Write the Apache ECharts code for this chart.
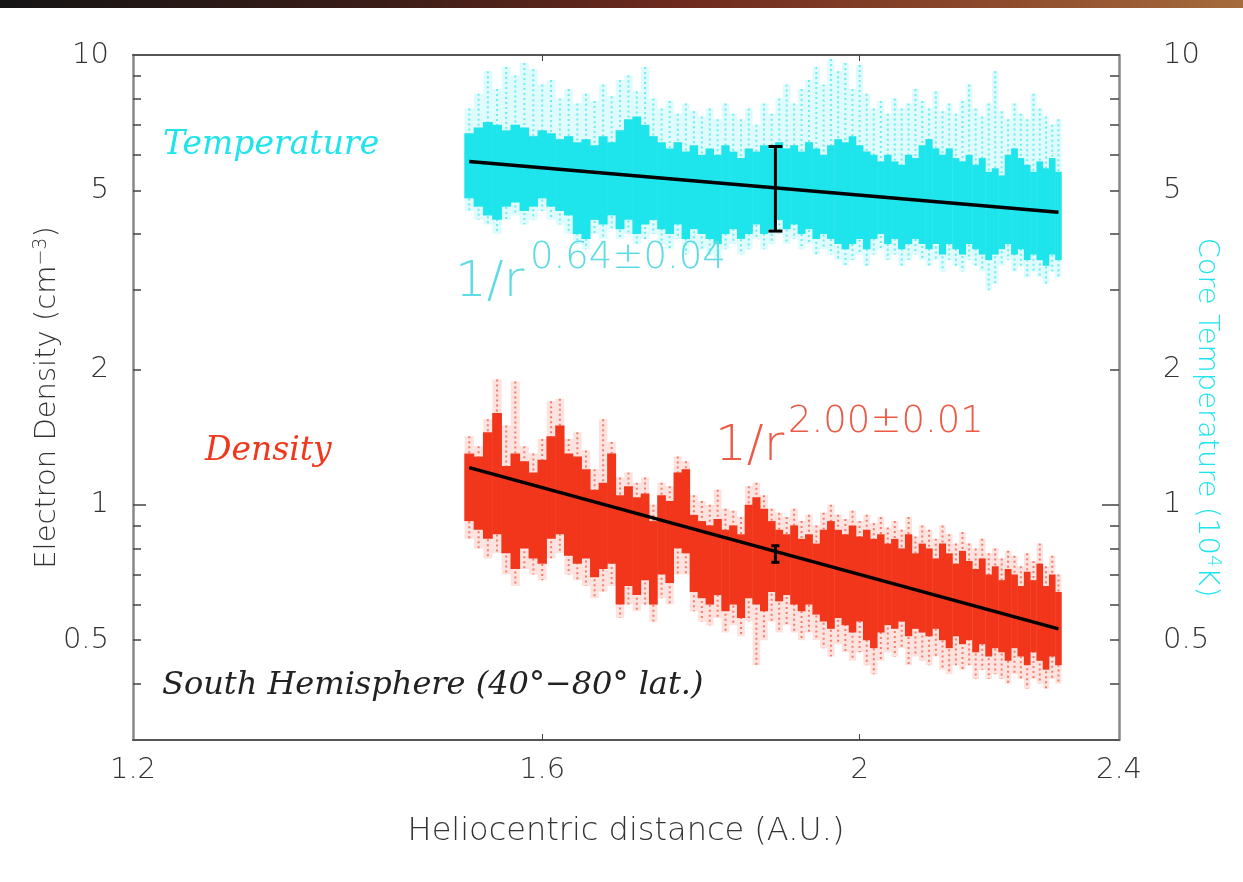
<!DOCTYPE html>
<html>
<head>
<meta charset="utf-8">
<script src="https://cdn.jsdelivr.net/npm/echarts@6/dist/echarts.min.js"></script>
<style>
html, body { margin: 0; padding: 0; background: #fff; }
#main { width: 1243px; height: 882px; }
</style>
</head>
<body>
<div id="main"></div>
<script>
// heliocentric distance bins (A.U.)
var binX = [1.52, 1.53, 1.54, 1.55, 1.56, 1.57, 1.58, 1.59, 1.60, 1.61,
    1.62, 1.63, 1.64, 1.65, 1.66, 1.67, 1.68, 1.69, 1.70, 1.71,
    1.72, 1.73, 1.74, 1.75, 1.76, 1.77, 1.78, 1.79, 1.80, 1.81,
    1.82, 1.83, 1.84, 1.85, 1.86, 1.87, 1.88, 1.89, 1.90, 1.91,
    1.92, 1.93, 1.94, 1.95, 1.96, 1.97, 1.98, 1.99, 2.00, 2.01,
    2.02, 2.03, 2.04, 2.05, 2.06, 2.07, 2.08, 2.09, 2.10, 2.11,
    2.12, 2.13, 2.14, 2.15, 2.16, 2.17, 2.18, 2.19, 2.20, 2.21,
    2.22, 2.23, 2.24, 2.25, 2.26, 2.27, 2.28, 2.29, 2.30];

// core temperature (10^4 K): dense band and sparse outliers
var tempHi = [6.7, 6.9, 7.1, 7.0, 6.8, 7.0, 6.9, 6.6, 6.8, 6.7,
    6.5, 6.6, 6.4, 6.5, 6.3, 6.6, 6.4, 6.8, 7.2, 7.3,
    7.0, 6.6, 6.4, 6.2, 6.4, 6.1, 6.3, 6.0, 6.2, 6.0,
    6.3, 6.1, 5.9, 6.2, 6.1, 6.3, 6.2, 6.4, 6.2, 6.3,
    6.1, 6.4, 6.2, 6.0, 6.3, 6.5, 6.4, 6.6, 6.3, 6.1,
    6.0, 5.8, 6.0, 5.8, 5.7, 6.0, 5.9, 6.3, 6.5, 6.2,
    6.0, 6.2, 5.9, 5.8, 6.0, 5.7, 5.9, 5.5, 5.6, 5.4,
    6.0, 6.2, 5.9, 5.7, 5.5, 5.8, 5.6, 5.9, 5.5];
var tempLo = [4.8, 4.6, 4.4, 4.3, 4.6, 4.7, 4.5, 4.6, 4.8, 4.6,
    4.5, 4.4, 4.0, 3.9, 4.3, 4.2, 4.4, 4.1, 4.3, 4.0,
    4.2, 4.3, 4.1, 4.0, 4.2, 3.9, 4.1, 4.0, 3.9, 3.8,
    4.0, 4.1, 3.9, 4.0, 4.2, 4.0, 4.1, 4.3, 4.1, 4.2,
    4.0, 4.1, 3.9, 4.0, 3.9, 3.8, 3.7, 3.8, 3.9, 3.7,
    3.9, 4.0, 3.8, 3.9, 3.7, 3.8, 3.9, 3.8, 3.7, 3.8,
    3.6, 3.8, 3.7, 3.6, 3.8, 3.7, 3.6, 3.5, 3.6, 3.7,
    3.8, 3.6, 3.7, 3.5, 3.6, 3.5, 3.4, 3.6, 3.5];
var tempMax = [7.6, 8.2, 9.2, 8.4, 9.4, 9.0, 9.6, 9.3, 8.6, 8.8,
    8.0, 8.4, 7.8, 8.2, 7.9, 8.6, 8.1, 8.8, 9.0, 8.3,
    9.4, 8.0, 7.6, 7.9, 7.4, 7.8, 7.5, 7.3, 7.6, 7.2,
    7.8, 7.4, 7.2, 7.6, 7.0, 7.8, 7.4, 8.0, 8.6, 7.8,
    8.4, 8.8, 9.4, 8.6, 9.8, 9.2, 9.6, 8.4, 9.5, 8.2,
    7.6, 7.9, 7.4, 8.0, 7.6, 7.8, 8.4, 7.9, 7.6, 8.3,
    7.5, 7.8, 7.4, 7.9, 8.6, 7.6, 7.3, 7.8, 9.2, 7.5,
    7.2, 7.8, 7.4, 7.2, 8.2, 7.6, 7.3, 7.0, 7.2];
var tempMin = [4.5, 4.3, 4.2, 4.0, 4.3, 4.4, 4.2, 4.3, 4.5, 4.3,
    4.2, 4.0, 3.8, 3.7, 4.0, 3.9, 4.1, 3.9, 4.0, 3.8,
    3.9, 4.0, 3.8, 3.7, 3.9, 3.6, 3.8, 3.7, 3.6, 3.5,
    3.7, 3.8, 3.6, 3.7, 3.9, 3.7, 3.8, 4.0, 3.8, 3.9,
    3.7, 3.8, 3.6, 3.7, 3.6, 3.5, 3.4, 3.5, 3.6, 3.4,
    3.6, 3.7, 3.5, 3.6, 3.4, 3.5, 3.6, 3.5, 3.4, 3.5,
    3.3, 3.5, 3.4, 3.3, 3.5, 3.4, 3.3, 3.0, 3.1, 3.4,
    3.5, 3.3, 3.4, 3.2, 3.3, 3.2, 3.1, 3.3, 3.2];

// electron density (cm^-3): dense band and sparse outliers
var densHi = [1.30, 1.28, 1.45, 1.60, 1.22, 1.30, 1.25, 1.18, 1.26, 1.42,
    1.50, 1.30, 1.28, 1.20, 1.08, 1.12, 1.30, 1.05, 1.10, 1.04,
    1.06, 0.92, 1.05, 1.02, 1.18, 1.20, 0.95, 0.92, 0.90, 0.93,
    0.88, 0.90, 0.86, 1.00, 1.04, 0.98, 0.92, 0.88, 0.86, 0.90,
    0.84, 0.86, 0.82, 0.88, 0.92, 0.88, 0.86, 0.90, 0.85, 0.88,
    0.84, 0.86, 0.82, 0.84, 0.80, 0.86, 0.78, 0.82, 0.80, 0.76,
    0.82, 0.78, 0.74, 0.79, 0.75, 0.72, 0.76, 0.70, 0.73, 0.68,
    0.72, 0.70, 0.66, 0.71, 0.68, 0.74, 0.66, 0.70, 0.64];
var densLo = [0.92, 0.88, 0.84, 0.86, 0.78, 0.72, 0.80, 0.76, 0.74, 0.84,
    0.86, 0.77, 0.74, 0.76, 0.69, 0.72, 0.74, 0.60, 0.66, 0.63,
    0.68, 0.60, 0.70, 0.67, 0.80, 0.78, 0.64, 0.62, 0.60, 0.63,
    0.58, 0.60, 0.56, 0.62, 0.60, 0.58, 0.64, 0.61, 0.63, 0.60,
    0.58, 0.60, 0.57, 0.55, 0.53, 0.56, 0.54, 0.52, 0.55, 0.50,
    0.48, 0.52, 0.54, 0.53, 0.55, 0.51, 0.53, 0.52, 0.51, 0.53,
    0.50, 0.48, 0.51, 0.49, 0.50, 0.47, 0.49, 0.46, 0.48, 0.47,
    0.45, 0.48, 0.46, 0.44, 0.47, 0.45, 0.43, 0.46, 0.44];
var densMax = [1.42, 1.35, 1.55, 1.90, 1.50, 1.88, 1.35, 1.30, 1.40, 1.70,
    1.72, 1.40, 1.45, 1.32, 1.20, 1.55, 1.38, 1.15, 1.18, 1.12,
    1.15, 1.00, 1.12, 1.10, 1.28, 1.25, 1.05, 1.02, 1.00, 1.08,
    0.98, 0.97, 0.94, 1.10, 1.12, 1.05, 0.98, 0.96, 0.94, 0.98,
    0.92, 0.95, 0.90, 0.96, 1.00, 0.95, 0.93, 0.97, 0.92, 0.95,
    0.91, 0.94, 0.89, 0.92, 0.88, 0.94, 0.85, 0.90, 0.88, 0.84,
    0.90, 0.86, 0.82, 0.87, 0.82, 0.80, 0.84, 0.78, 0.80, 0.76,
    0.79, 0.77, 0.73, 0.78, 0.75, 0.82, 0.73, 0.77, 0.70];
var densMin = [0.84, 0.80, 0.76, 0.78, 0.70, 0.66, 0.72, 0.70, 0.68, 0.76,
    0.78, 0.70, 0.68, 0.66, 0.62, 0.64, 0.66, 0.56, 0.60, 0.58,
    0.60, 0.55, 0.62, 0.60, 0.70, 0.70, 0.58, 0.55, 0.54, 0.56,
    0.52, 0.54, 0.51, 0.55, 0.44, 0.50, 0.55, 0.52, 0.54, 0.52,
    0.50, 0.52, 0.50, 0.48, 0.46, 0.49, 0.47, 0.45, 0.47, 0.44,
    0.42, 0.45, 0.47, 0.46, 0.48, 0.44, 0.46, 0.45, 0.44, 0.46,
    0.43, 0.42, 0.44, 0.43, 0.44, 0.41, 0.43, 0.41, 0.42, 0.41,
    0.40, 0.42, 0.41, 0.39, 0.41, 0.40, 0.39, 0.41, 0.40];

// power-law fits and representative error bars
var fitX = [1.52, 2.30];
var tempFit = [5.80, 4.47];
var densFit = [1.21, 0.53];
var tempErr = [1.885, 4.06, 6.26];
var densErr = [1.885, 0.745, 0.811];

// axis ticks
var xLabels = [1.2, 1.6, 2, 2.4];
var xTicks = [1.6, 2];
var yLabels = [0.5, 1, 2, 5, 10];
var yTicks = [0.4, 0.5, 0.6, 0.7, 0.8, 0.9, 2, 3, 4, 5, 6, 7, 8, 9];
var yMajor = [1];

var CYAN = '#1ee4ec';
var RED = '#f2361b';
var SANS = 'DejaVu Sans';

function ranges(lo, hi) {
    return binX.map(function (x, i) { return [x, lo[i], hi[i]]; });
}

// dense part of each bin: a filled column, slightly overlapping its neighbours
function bandItem(color) {
    return function (params, api) {
        var x = api.value(0);
        var a = api.coord([x - 0.0053, api.value(2)]);
        var b = api.coord([x + 0.0053, api.value(1)]);
        return {
            type: 'rect',
            shape: { x: a[0], y: a[1], width: b[0] - a[0], height: b[1] - a[1] },
            style: { fill: color }
        };
    };
}

// sparse outliers: pale haze plus a dotted streak
function spikeItem(color) {
    return function (params, api) {
        var x = api.value(0);
        var a = api.coord([x - 0.005, api.value(2)]);
        var b = api.coord([x + 0.005, api.value(1)]);
        var c = (a[0] + b[0]) / 2;
        return {
            type: 'group',
            children: [{
                type: 'rect',
                shape: { x: a[0], y: a[1], width: b[0] - a[0], height: b[1] - a[1] },
                style: { fill: color, opacity: 0.14 }
            }, {
                type: 'line',
                shape: { x1: c, y1: a[1], x2: c, y2: b[1] },
                style: { stroke: color, lineWidth: 2, lineDash: [2, 3], opacity: 0.6 }
            }]
        };
    };
}

function errItem(cap) {
    return function (params, api) {
        var lo = api.coord([api.value(0), api.value(1)]);
        var hi = api.coord([api.value(0), api.value(2)]);
        var s = { stroke: '#000', lineWidth: 3 };
        return {
            type: 'group',
            children: [
                { type: 'line', shape: { x1: lo[0], y1: lo[1], x2: hi[0], y2: hi[1] }, style: s },
                { type: 'line', shape: { x1: lo[0] - cap, y1: lo[1], x2: lo[0] + cap, y2: lo[1] }, style: s },
                { type: 'line', shape: { x1: hi[0] - cap, y1: hi[1], x2: hi[0] + cap, y2: hi[1] }, style: s }
            ]
        };
    };
}

function fmt(v) { return String(+(+v).toPrecision(3)); }

var labelStyle = { fontFamily: SANS, fontSize: 29, color: '#333', fontWeight: 200 };

function yAxisDef(pos, withLabels, ticks, tickLen) {
    return {
        type: 'log', logBase: 10, min: 0.3, max: 10, position: pos,
        axisLine: { show: withLabels, lineStyle: { color: '#888', width: 2.5 } },
        axisTick: { inside: true, length: tickLen, customValues: ticks, lineStyle: { color: '#444', width: 1.5 } },
        axisLabel: withLabels ? Object.assign({ customValues: yLabels, formatter: fmt, margin: pos === 'left' ? 24 : 44 }, labelStyle) : { show: false },
        splitLine: { show: false },
        minorTick: { show: false }
    };
}

var myChart = echarts.init(document.getElementById('main'));

var yLeft = yAxisDef('left', true, yTicks, 8);
yLeft.name = '{n|Electron Density (cm}{s|−3}{n|)}';
yLeft.nameLocation = 'middle';
yLeft.nameGap = 70;
yLeft.nameRotate = 90;
yLeft.nameMoveOverlap = false;
yLeft.nameTextStyle = {
    rich: {
        n: { fontFamily: SANS, fontSize: 29, color: '#333', fontWeight: 200 },
        s: { fontFamily: SANS, fontSize: 19, color: '#333', fontWeight: 200, verticalAlign: 'top', padding: [0, 0, 12, 0] }
    }
};

var yRight = yAxisDef('right', true, yTicks, 9);
yRight.name = '{g|}{n|Core Temperature (10}{s|4}{n|K)}';
yRight.nameLocation = 'middle';
yRight.nameGap = 72;
yRight.nameRotate = -90;
yRight.nameMoveOverlap = false;
yRight.nameTextStyle = {
    rich: {
        g: { width: 40 },
        n: { fontFamily: SANS, fontSize: 29, color: CYAN, fontWeight: 200 },
        s: { fontFamily: SANS, fontSize: 19, color: CYAN, fontWeight: 200, verticalAlign: 'top', padding: [0, 0, 12, 0] }
    }
};

var option = {
    backgroundColor: '#fff',
    animation: false,
    grid: { left: 133, right: 124, top: 55, bottom: 142, outerBoundsMode: 'none', containLabel: false },
    xAxis: [{
        type: 'log', logBase: 10, min: 1.2, max: 2.4, position: 'bottom',
        name: 'Heliocentric distance (A.U.)', nameLocation: 'middle', nameGap: 76,
        nameMoveOverlap: false,
        nameTextStyle: { fontFamily: SANS, fontSize: 32, color: '#333', fontWeight: 200 },
        axisLine: { lineStyle: { color: '#555', width: 2 } },
        axisTick: { inside: true, length: 6, customValues: xTicks, lineStyle: { color: '#444' } },
        axisLabel: Object.assign({ customValues: xLabels, formatter: fmt, margin: 16 }, labelStyle),
        splitLine: { show: false },
        minorTick: { show: false }
    }, {
        type: 'log', logBase: 10, min: 1.2, max: 2.4, position: 'top',
        axisLine: { lineStyle: { color: '#555', width: 2 } },
        axisTick: { inside: true, length: 6, customValues: xTicks, lineStyle: { color: '#444' } },
        axisLabel: { show: false },
        splitLine: { show: false }
    }],
    yAxis: [yLeft, yRight, yAxisDef('left', false, yMajor, 13), yAxisDef('right', false, yMajor, 17)],
    series: [{
        type: 'custom', name: 'Temperature outliers', renderItem: spikeItem(CYAN),
        data: ranges(tempMin, tempMax), silent: true
    }, {
        type: 'custom', name: 'Temperature', renderItem: bandItem(CYAN),
        data: ranges(tempLo, tempHi), silent: true
    }, {
        type: 'custom', name: 'Density outliers', renderItem: spikeItem(RED),
        data: ranges(densMin, densMax), silent: true
    }, {
        type: 'custom', name: 'Density', renderItem: bandItem(RED),
        data: ranges(densLo, densHi), silent: true
    }, {
        type: 'line', name: 'Temperature fit', symbol: 'none',
        lineStyle: { color: '#000', width: 3.5 },
        data: fitX.map(function (x, i) { return [x, tempFit[i]]; })
    }, {
        type: 'line', name: 'Density fit', symbol: 'none',
        lineStyle: { color: '#000', width: 3.5 },
        data: fitX.map(function (x, i) { return [x, densFit[i]]; })
    }, {
        type: 'custom', name: 'Temperature error', renderItem: errItem(7),
        data: [tempErr], z: 5
    }, {
        type: 'custom', name: 'Density error', renderItem: errItem(4),
        data: [densErr], z: 5
    }],
    graphic: [{
        type: 'rect', left: 0, top: 0, z: 10,
        shape: { width: 1243, height: 8 },
        style: {
            fill: new echarts.graphic.LinearGradient(0, 0, 1, 0, [
                { offset: 0, color: '#151515' },
                { offset: 0.3, color: '#3a1d18' },
                { offset: 0.55, color: '#6e2a1e' },
                { offset: 0.8, color: '#8d4a2c' },
                { offset: 1, color: '#a56b3c' }
            ])
        }
    }, {
        type: 'text', left: 163, top: 129, z: 10,
        style: { text: 'Temperature', font: 'italic 33px "DejaVu Serif"', fill: CYAN }
    }, {
        type: 'text', left: 205, top: 435, z: 10,
        style: { text: 'Density', font: 'italic 33px "DejaVu Serif"', fill: RED }
    }, {
        type: 'text', left: 162, top: 670, z: 10,
        style: { text: 'South Hemisphere (40°−80° lat.)', font: 'italic 32px "DejaVu Serif"', fill: '#222' }
    }, {
        type: 'text', left: 455, top: 258, z: 10,
        style: { text: '1/r', font: '200 50px "DejaVu Sans"', fill: '#5edbe5' }
    }, {
        type: 'text', left: 530, top: 240, z: 10,
        style: { text: '0.64±0.04', font: '200 37px "DejaVu Sans"', fill: '#5edbe5' }
    }, {
        type: 'text', left: 715, top: 422, z: 10,
        style: { text: '1/r', font: '200 50px "DejaVu Sans"', fill: '#ea5a45' }
    }, {
        type: 'text', left: 788, top: 404, z: 10,
        style: { text: '2.00±0.01', font: '200 37px "DejaVu Sans"', fill: '#ea5a45' }
    }]
};
myChart.setOption(option);
</script>
</body>
</html>
